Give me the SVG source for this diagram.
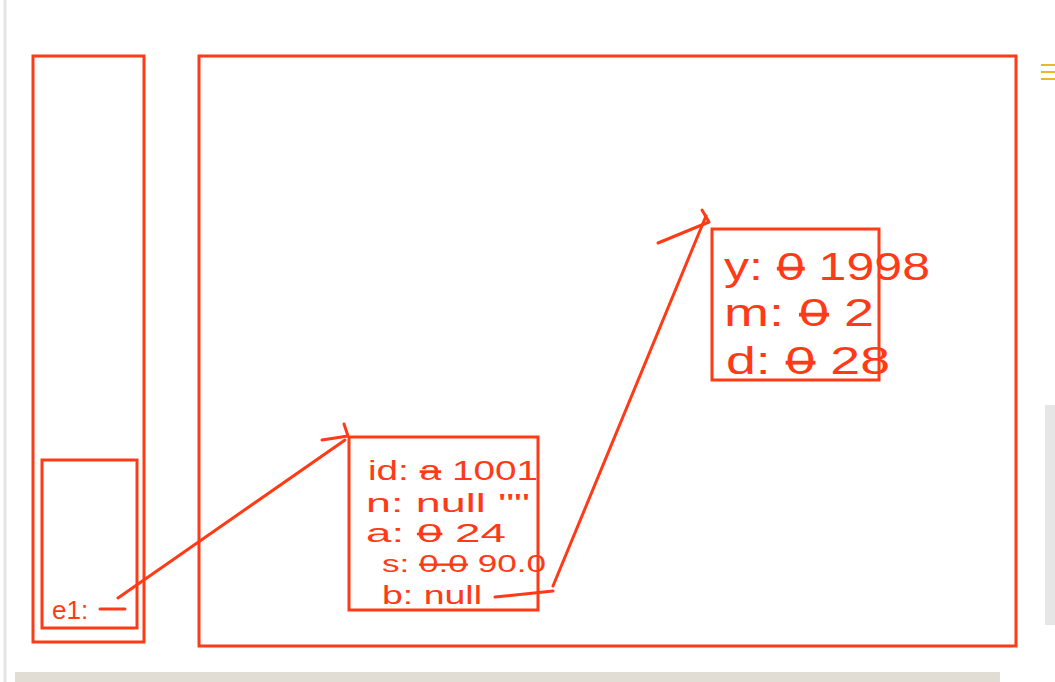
<svg xmlns="http://www.w3.org/2000/svg" width="1055" height="682" viewBox="0 0 1055 682">
<style>
.box{fill:none;stroke:#ff3a17;stroke-width:3}
.ln{fill:none;stroke:#ff3a17;stroke-width:3;stroke-linecap:round;stroke-linejoin:round}
.t{font-family:"Liberation Sans",sans-serif;fill:#ff3a17}
.s{text-decoration:line-through}
</style>
<rect width="1055" height="682" fill="#ffffff"/>
<line x1="5" y1="0" x2="5" y2="682" stroke="#e4e4e4" stroke-width="3"/>
<rect x="15" y="672" width="985" height="10" fill="#e2ddd4"/>
<rect x="1045" y="405" width="10" height="220" fill="#e6e6e6"/>
<g stroke="#e8b92a" stroke-width="2"><line x1="1041" y1="65" x2="1055" y2="65"/><line x1="1041" y1="72" x2="1055" y2="72"/><line x1="1041" y1="79" x2="1055" y2="79"/></g>
<g id="stack">
<rect class="box" x="33" y="56" width="111" height="586"/>
</g>
<g id="frame">
<rect class="box" x="42" y="460" width="95" height="168"/>
<text class="t" x="52" y="619" font-size="26">e1:</text>
</g>
<g id="heap">
<rect class="box" x="199" y="56" width="817" height="590"/>
</g>
<g id="person">
<rect class="box" x="349" y="437" width="189" height="173"/>
<text class="t" x="368" y="480" font-size="28" textLength="170" lengthAdjust="spacingAndGlyphs">id: <tspan class="s">a</tspan> 1001</text>
<text class="t" x="366" y="512" font-size="26" textLength="164" lengthAdjust="spacingAndGlyphs">n: null ""</text>
<text class="t" x="366" y="542" font-size="26" textLength="140" lengthAdjust="spacingAndGlyphs">a: <tspan class="s">0</tspan> 24</text>
<text class="t" x="382" y="572" font-size="24" textLength="164" lengthAdjust="spacingAndGlyphs">s: <tspan class="s">0.0</tspan> 90.0</text>
<text class="t" x="382" y="604" font-size="26" textLength="100" lengthAdjust="spacingAndGlyphs">b: null</text>
</g>
<g id="date">
<rect class="box" x="712" y="229" width="167" height="151"/>
<text class="t" x="724" y="280" font-size="38" textLength="206" lengthAdjust="spacingAndGlyphs">y: <tspan class="s">0</tspan> 1998</text>
<text class="t" x="724" y="326" font-size="38" textLength="150" lengthAdjust="spacingAndGlyphs">m: <tspan class="s">0</tspan> 2</text>
<text class="t" x="726" y="374" font-size="38" textLength="164" lengthAdjust="spacingAndGlyphs">d: <tspan class="s">0</tspan> 28</text>
</g>
<g id="connectors">
<line class="ln" x1="100" y1="609" x2="125" y2="609"/>
<polyline class="ln" points="118,598 345,440"/>
<polyline class="ln" points="322,440 348,436 344,424"/>
<line class="ln" x1="495" y1="597" x2="553" y2="591"/>
<polyline class="ln" points="553,586 706,216"/>
<polyline class="ln" points="658,243 709,222 702,210"/>
</g>
</svg>
